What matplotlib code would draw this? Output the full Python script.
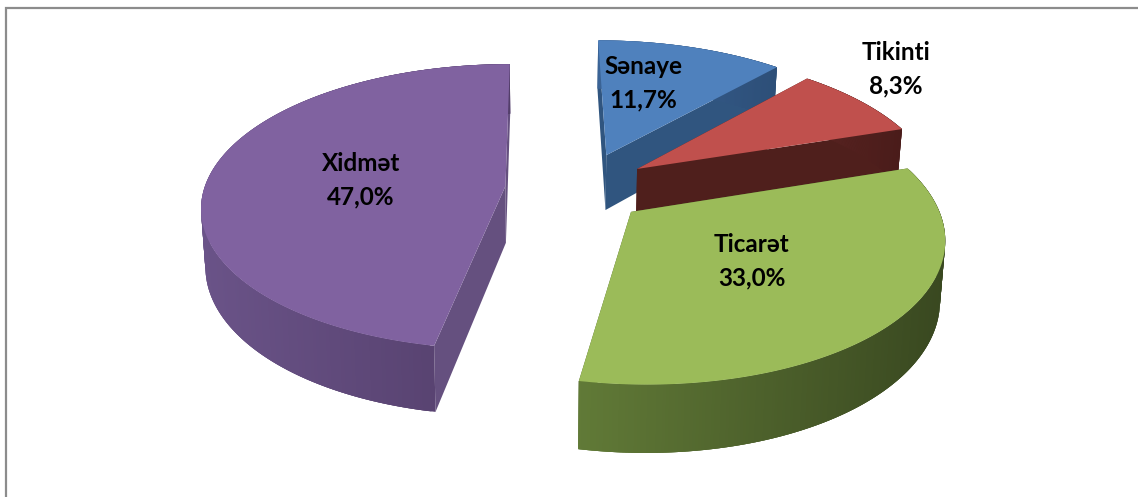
import matplotlib

matplotlib.use("Agg")
import matplotlib.pyplot as plt
import numpy as np
from matplotlib.colors import to_rgb

labels = ["Sənaye", "Tikinti", "Ticarət", "Xidmət"]
values = [11.7, 8.3, 33.0, 47.0]
value_labels = ["11,7%", "8,3%", "33,0%", "47,0%"]
top_colors = ["#4f81bd", "#c0504d", "#9bbb59", "#8062a0"]
face_colors = ["#30557f", "#4f1f1c", "#4a5f2a", "#65507f"]
rim_left = ["#3a6396", "#5a2422", "#617a37", "#6a5388"]
rim_right = ["#2d4f78", "#4a1c1a", "#394820", "#533e6a"]

# pie layout in disc units, then a simple perspective projection to pixels
offsets = [(0.228, 0.264), (0.329, 0.16), (0.295, -0.145), (-0.115, 0.035)]
label_pos = [(643, 83), (896, 69), (752, 261), (361, 180)]
X0, CY, SX, SY, PERSP, DEPTH = 540, 191, 302, 141, 0.145, 57


def project(u, v, bottom=False):
    w = 1 + PERSP * v
    x = X0 + SX * u / w
    y = CY - SY * v / w
    if bottom:
        x = X0 + (x - X0) * 0.987
        y = y + DEPTH / w
    return x, y


def arc(offset, a0, a1, n=240):
    angles = np.radians(np.linspace(a0, a1, n))
    return offset[0] + np.sin(angles), offset[1] + np.cos(angles)


fig = plt.figure(figsize=(11.38, 4.97), dpi=100)
ax = fig.add_axes([0, 0, 1, 1])
ax.set_xlim(0, 1138)
ax.set_ylim(497, 0)
ax.axis("off")

# chart frame, only left and top show inside the picture
ax.plot([6.5, 6.5, 1138], [497, 8, 8], color="#8c8c8c", lw=1.6, solid_joinstyle="miter")

ends = np.cumsum(values) / np.sum(values) * 360
starts = np.concatenate([[0], ends[:-1]])

for i in range(len(values)):
    off = offsets[i]
    us, vs = arc(off, starts[i], ends[i])
    tx, ty = project(us, vs)
    bx, by = project(us, vs, bottom=True)
    ax_, ay_ = project(off[0], off[1])
    bax, bay = project(off[0], off[1], bottom=True)

    # radial side faces
    for k in (0, -1):
        ax.fill([ax_, tx[k], bx[k], bax], [ay_, ty[k], by[k], bay], color=face_colors[i], lw=0, zorder=i * 3 + 1)

    # outer rim with a left to right shading, quads overlap to hide the seams
    left = np.array(to_rgb(rim_left[i]))
    right = np.array(to_rgb(rim_right[i]))
    for k in range(len(tx) - 1):
        e = min(k + 3, len(tx) - 1)
        t = (0.5 * (tx[k] + tx[k + 1]) - tx.min()) / (tx.max() - tx.min())
        ax.fill([tx[k], tx[e], bx[e], bx[k]], [ty[k], ty[e], by[e], by[k]],
                color=left + (right - left) * t, lw=0, zorder=i * 3 + 2)

    ax.fill(np.r_[ax_, tx], np.r_[ay_, ty], color=top_colors[i], lw=0, zorder=i * 3 + 3)

for i in range(len(labels)):
    ax.text(label_pos[i][0], label_pos[i][1], f"{labels[i]}\n{value_labels[i]}", ha="center", va="center",
            fontsize=17.5, fontweight="bold", family=["Lato", "Noto Sans", "DejaVu Sans"], color="black",
            linespacing=1.55, zorder=30)

fig.savefig("out.png", dpi=100)
